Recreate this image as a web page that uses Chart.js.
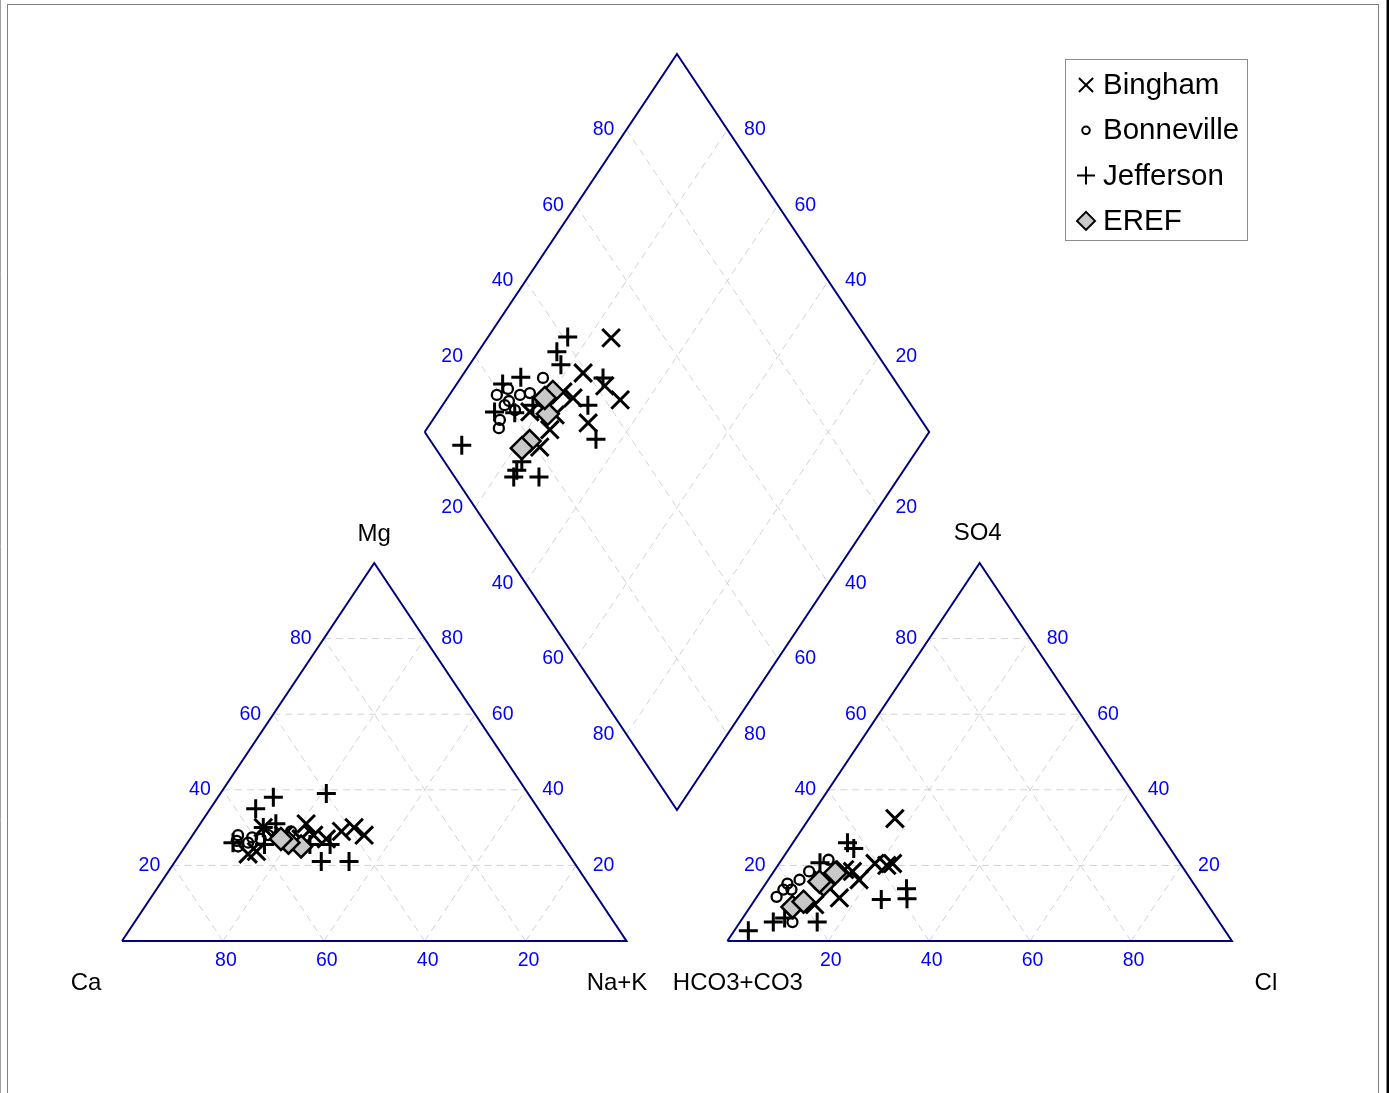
<!DOCTYPE html>
<html>
<head>
<meta charset="utf-8">
<title>Piper diagram</title>
<script src="https://cdn.jsdelivr.net/npm/chart.js@4.4.1/dist/chart.umd.min.js"></script>
<style>
  html, body { margin: 0; padding: 0; background: #ffffff; }
  #wrap { position: relative; width: 1389px; height: 1093px; }
  canvas { display: block; }
</style>
</head>
<body>
<div id="wrap"><canvas id="piper"></canvas></div>
<script>
// ---- data -------------------------------------------------------------
const SERIES_NAMES = ['Bingham', 'Bonneville', 'Jefferson', 'EREF'];
const TICK_VALUES = [20, 40, 60, 80];
const TICK_LABELS = ['20', '40', '60', '80'];
const CATION_LABELS = ['Ca', 'Na+K', 'Mg'];
const ANION_LABELS = ['HCO3+CO3', 'Cl', 'SO4'];

// cation triangle: [Ca %, Mg %]  (Na+K is the remainder)
const binghamCations = [[38, 28], [39, 30], [42, 29], [48, 31], [63.5, 23], [61.5, 23.7], [48, 28], [51, 27], [54, 28], [46, 27], [57, 30]];
const bonnevilleCations = [[63, 28], [64.5, 25], [62, 26], [59, 27], [57, 28], [52, 29], [55, 28], [60.5, 27.4], [64, 26.5]];
const jeffersonCations = [[51, 38], [56, 35], [40, 39], [50, 21], [44.5, 21], [46, 25.5], [57, 30], [65, 26], [54, 31], [50, 25.5], [59, 25.5]];
const erefCations = [[52, 25], [54, 26], [55, 27]];

// anion triangle: [Cl %, SO4 %]  (HCO3+CO3 is the remainder)
const binghamAnions = [[17, 32.4], [19, 20.5], [21.6, 20], [22.5, 20.5], [16.5, 11.4], [15.6, 18.4], [18, 16.2], [12.5, 9.6], [13.8, 18.9], [11, 16]];
const bonnevilleAnions = [[3.9, 11.7], [10.4, 5], [4.3, 15.2], [6.2, 16.2], [7, 18.4], [9.3, 21.5], [5.9, 13.6], [4.3, 13.6]];
const jeffersonAnions = [[10.8, 26], [12.8, 24.5], [25, 11], [28.6, 13.8], [30, 11.2], [2.8, 2.7], [6.6, 5], [8.3, 6.1], [15.3, 5], [8, 20.7]];
const erefAnions = [[8.4, 9], [9.9, 10.4], [11.6, 14.9], [12.4, 18], [10.4, 15.7]];

// diamond: [Na+K %, SO4+Cl %]
const binghamDiamond = [[24.5, 49.4], [23.6, 39.2], [29.6, 41.8], [34.5, 43], [31.2, 33.6], [24.9, 33.9], [22.1, 32.7], [24.5, 25.1], [24.8, 20.8], [20.9, 26.7], [18.2, 23.5], [23.6, 28.1]];
const bonnevilleDiamond = [[9.4, 19.2], [10.8, 22.2], [12.6, 20.8], [13.3, 16.5], [14.2, 15.2], [15.7, 26], [16.3, 30.6], [15, 20.8], [12.3, 19.4], [14, 23.8]];
const jeffersonDiamond = [[15.8, 40.9], [15.6, 36.8], [18.1, 35.9], [11.8, 26.3], [9.1, 21.8], [11.2, 16.5], [15.3, 20.4], [9.1, 5.6], [23.6, 11.7], [28.6, 16.7], [23.2, 15.3], [28.8, 35.9], [34.9, 33], [28.2, 42.5], [23.3, 13.2], [17.9, 25]];
const erefDiamond = [[20.1, 30.7], [22, 26.8], [22, 19.6], [21.4, 17.1], [19.3, 28.3]];

// ---- layout (plot units: each triangle is 100 wide and 100 high) ------
const GAP = 20;             // space between the two triangles
const DIAMOND_BASE = 34.66; // height of the diamond's lower corner
const VIEW = { xMin: -24.18, xMax: 251.14, yMin: -40.21, yMax: 248.94 };

function cationXY(ca, mg) { return { x: (100 - ca) - mg / 2, y: mg }; }
function anionXY(cl, so4) { return { x: 100 + GAP + cl + so4 / 2, y: so4 }; }
function diamondXY(nak, so4cl) {
  return { x: 50 + GAP / 2 + (nak + so4cl) / 2, y: DIAMOND_BASE + 100 + so4cl - nak };
}

const OUTLINE_COLOR = '#000080';
const GRID_COLOR = '#d2d2d2';
const TICK_COLOR = '#0000ff';
const FONT = '"Liberation Sans", Arial, Helvetica, sans-serif';

// ---- frame datasets ---------------------------------------------------
function gridSegment(a, b) {
  return {
    data: [a, b], showLine: true, pointRadius: 0, pointHoverRadius: 0,
    borderColor: GRID_COLOR, borderWidth: 1, borderDash: [7, 5],
    fill: false, order: 10
  };
}
function outline(points) {
  return {
    data: points, showLine: true, pointRadius: 0, pointHoverRadius: 0,
    borderColor: OUTLINE_COLOR, borderWidth: 2, borderJoinStyle: 'miter',
    fill: false, order: 5
  };
}

const frameSets = [];
TICK_VALUES.forEach(t => {
  // cation triangle
  frameSets.push(gridSegment(cationXY(100 - t, t), cationXY(0, t)));
  frameSets.push(gridSegment(cationXY(t, 0), cationXY(t, 100 - t)));
  frameSets.push(gridSegment(cationXY(100 - t, 0), cationXY(0, 100 - t)));
  // anion triangle
  frameSets.push(gridSegment(anionXY(0, t), anionXY(100 - t, t)));
  frameSets.push(gridSegment(anionXY(t, 0), anionXY(t, 100 - t)));
  frameSets.push(gridSegment(anionXY(100 - t, 0), anionXY(0, 100 - t)));
  // diamond
  frameSets.push(gridSegment(diamondXY(0, t), diamondXY(100, t)));
  frameSets.push(gridSegment(diamondXY(t, 0), diamondXY(t, 100)));
});
frameSets.push(outline([cationXY(100, 0), cationXY(0, 0), cationXY(0, 100), cationXY(100, 0)]));
frameSets.push(outline([anionXY(0, 0), anionXY(100, 0), anionXY(0, 100), anionXY(0, 0)]));
frameSets.push(outline([diamondXY(0, 0), diamondXY(0, 100), diamondXY(100, 100), diamondXY(100, 0), diamondXY(0, 0)]));

// ---- sample datasets --------------------------------------------------
function samplePoints(cations, anions, diamond) {
  return [
    ...cations.map(p => cationXY(p[0], p[1])),
    ...anions.map(p => anionXY(p[0], p[1])),
    ...diamond.map(p => diamondXY(p[0], p[1]))
  ];
}
const MARKERS = [
  { style: 'crossRot', radius: 12.5, width: 3, fill: 'rgba(0,0,0,0)' },
  { style: 'circle', radius: 5, width: 2.3, fill: 'rgba(0,0,0,0)' },
  { style: 'cross', radius: 9.5, width: 3, fill: 'rgba(0,0,0,0)' },
  { style: 'rectRot', radius: 11, width: 2.5, fill: '#c8c8c8' }
];
const LEGEND_MARKERS = [
  { style: 'crossRot', radius: 10, width: 2 },
  { style: 'circle', radius: 3.8, width: 2 },
  { style: 'cross', radius: 9, width: 2 },
  { style: 'rectRot', radius: 9, width: 2 }
];
const sampleData = [
  samplePoints(binghamCations, binghamAnions, binghamDiamond),
  samplePoints(bonnevilleCations, bonnevilleAnions, bonnevilleDiamond),
  samplePoints(jeffersonCations, jeffersonAnions, jeffersonDiamond),
  samplePoints(erefCations, erefAnions, erefDiamond)
];
const drawOrder = [3, 2, 1, 0]; // EREF on top
const sampleSets = SERIES_NAMES.map((name, i) => ({
  label: name,
  data: sampleData[i],
  showLine: false,
  pointStyle: MARKERS[i].style,
  pointRadius: MARKERS[i].radius,
  pointHoverRadius: MARKERS[i].radius,
  pointBorderWidth: MARKERS[i].width,
  borderWidth: MARKERS[i].width,
  pointBorderColor: '#000000',
  borderColor: '#000000',
  pointBackgroundColor: MARKERS[i].fill,
  backgroundColor: MARKERS[i].fill,
  order: drawOrder[i]
}));

// ---- helpers for text and legend --------------------------------------
function drawMarker(ctx, m, x, y, fill) {
  ctx.save();
  ctx.lineWidth = m.width;
  ctx.strokeStyle = '#000000';
  ctx.fillStyle = fill;
  ctx.beginPath();
  const r = m.radius;
  if (m.style === 'crossRot') {
    const d = r * Math.SQRT1_2;
    ctx.moveTo(x - d, y - d); ctx.lineTo(x + d, y + d);
    ctx.moveTo(x + d, y - d); ctx.lineTo(x - d, y + d);
    ctx.stroke();
  } else if (m.style === 'cross') {
    ctx.moveTo(x - r, y); ctx.lineTo(x + r, y);
    ctx.moveTo(x, y - r); ctx.lineTo(x, y + r);
    ctx.stroke();
  } else if (m.style === 'circle') {
    ctx.arc(x, y, r, 0, Math.PI * 2);
    ctx.stroke();
  } else {
    ctx.moveTo(x - r, y); ctx.lineTo(x, y - r); ctx.lineTo(x + r, y); ctx.lineTo(x, y + r);
    ctx.closePath();
    ctx.fill();
    ctx.stroke();
  }
  ctx.restore();
}

const piperDecor = {
  id: 'piperDecor',
  afterDatasetsDraw(chart) {
    const { ctx } = chart;
    const xs = chart.scales.x, ys = chart.scales.y;
    const px = p => ({ x: xs.getPixelForValue(p.x), y: ys.getPixelForValue(p.y) });
    ctx.save();
    ctx.textAlign = 'center';
    ctx.textBaseline = 'middle';

    // scale numbers
    ctx.font = '19.5px ' + FONT;
    ctx.fillStyle = TICK_COLOR;
    const put = (text, p, dx, dy) => ctx.fillText(text, p.x + dx, p.y + dy);
    TICK_VALUES.forEach((t, i) => {
      const lab = TICK_LABELS[i];
      put(lab, px(cationXY(100 - t, t)), -23, 0);
      put(lab, px(cationXY(0, t)), 27.5, 0);
      put(lab, px(cationXY(t, 0)), 3, 20);
      put(lab, px(anionXY(0, t)), -23, 0);
      put(lab, px(anionXY(100 - t, t)), 27.5, 0);
      put(lab, px(anionXY(t, 0)), 2.5, 20);
      put(lab, px(diamondXY(0, t)), -23, 0);
      put(lab, px(diamondXY(100 - t, 100)), 27.5, 0);
      put(lab, px(diamondXY(t, 0)), -23, 0);
      put(lab, px(diamondXY(100, 100 - t)), 27.5, 0);
    });

    // corner names
    ctx.font = '24px ' + FONT;
    ctx.fillStyle = '#000000';
    put(CATION_LABELS[0], px(cationXY(100, 0)), -36, 42);
    put(CATION_LABELS[1], px(cationXY(0, 0)), -9.5, 42);
    put(CATION_LABELS[2], px(cationXY(0, 100)), 0, -29);
    put(ANION_LABELS[0], px(anionXY(0, 0)), 10.5, 42);
    put(ANION_LABELS[1], px(anionXY(100, 0)), 34, 42);
    put(ANION_LABELS[2], px(anionXY(0, 100)), -2, -30);
    ctx.restore();
  },
  afterDraw(chart) {
    const { ctx } = chart;
    ctx.save();
    // page frame
    ctx.strokeStyle = '#808080';
    ctx.lineWidth = 1;
    ctx.strokeRect(7.5, 4.5, 1371, 1200);
    ctx.strokeStyle = '#a0a0a0';
    ctx.beginPath(); ctx.moveTo(0.5, 0); ctx.lineTo(0.5, 1093); ctx.stroke();
    ctx.strokeStyle = '#000000';
    ctx.lineWidth = 2.5;
    ctx.beginPath(); ctx.moveTo(1387.8, 0); ctx.lineTo(1387.8, 1093); ctx.stroke();

    // legend box
    ctx.fillStyle = '#ffffff';
    ctx.fillRect(1065.5, 59.5, 182, 181);
    ctx.strokeStyle = '#8c8c8c';
    ctx.lineWidth = 1;
    ctx.strokeRect(1065.5, 59.5, 182, 181);
    ctx.font = '29.5px ' + FONT;
    ctx.fillStyle = '#000000';
    ctx.textAlign = 'left';
    ctx.textBaseline = 'middle';
    SERIES_NAMES.forEach((name, i) => {
      const y = 85 + i * 45.3;
      drawMarker(ctx, LEGEND_MARKERS[i], 1086, y, MARKERS[i].fill);
      ctx.fillStyle = '#000000';
      ctx.fillText(name, 1103, y + 1);
    });
    ctx.restore();
  }
};

new Chart(document.getElementById('piper'), {
  type: 'scatter',
  data: { datasets: [...sampleSets, ...frameSets] },
  options: {
    responsive: true,
    maintainAspectRatio: false,
    animation: false,
    events: [],
    layout: { padding: 0, autoPadding: false },
    scales: {
      x: { type: 'linear', min: VIEW.xMin, max: VIEW.xMax, display: false },
      y: { type: 'linear', min: VIEW.yMin, max: VIEW.yMax, display: false }
    },
    plugins: {
      legend: { display: false },
      tooltip: { enabled: false }
    }
  },
  plugins: [piperDecor]
});
</script>
</body>
</html>
